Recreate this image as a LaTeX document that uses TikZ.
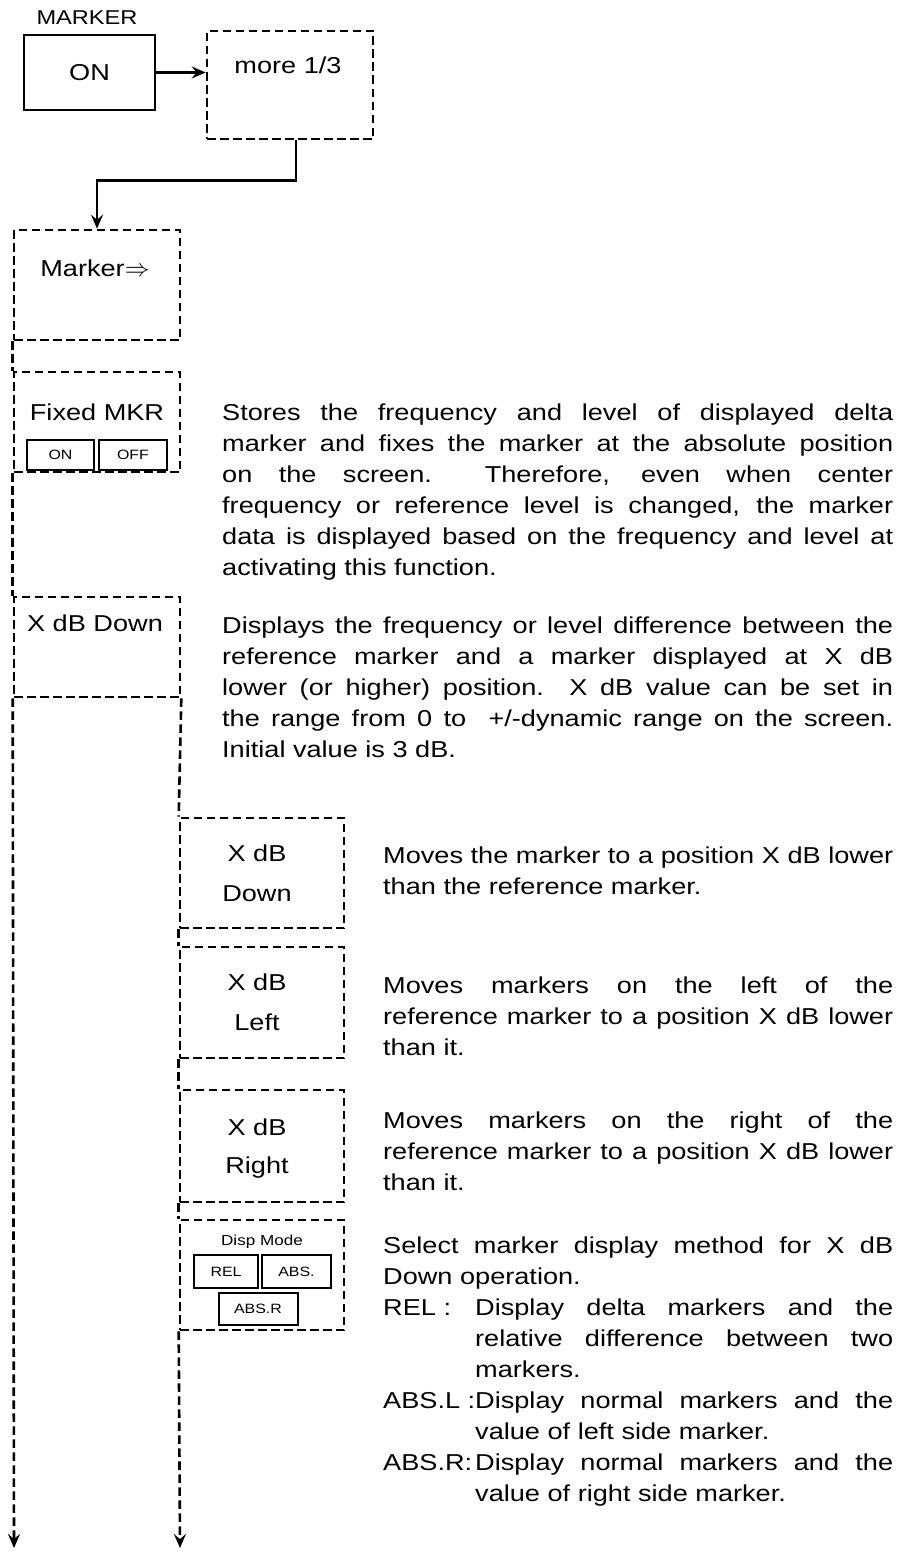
\documentclass[tikz,border=0pt]{standalone}
\usepackage{fontspec}
\setmainfont{Liberation Sans}[FakeStretch=1.18]
\usetikzlibrary{arrows.meta,positioning}

% one full, spread-out line of a description
\newcommand{\jl}[1]{{\spaceskip=0pt\relax\xspaceskip=0pt\relax\makebox[\linewidth][s]{#1}}}
\newcommand{\jt}[1]{{\spaceskip=0pt\relax\makebox[\dimexpr\linewidth-\tagw][s]{#1}}}
\newlength{\tagw}
\setlength{\tagw}{92pt}

\begin{document}
\begin{tikzpicture}[x=1pt, y=-1pt,
  key/.style={draw, line width=2.6pt, inner sep=0pt, font=\fontsize{23}{31}\selectfont, text height=16.5pt, text depth=0pt},
  soft/.style={draw, line width=2.6pt, dash pattern=on 8.5pt off 4.5pt, inner sep=0pt},
  btn/.style={draw, line width=2pt, inner sep=0pt, font=\fontsize{13.5}{16}\selectfont, text height=9.7pt, text depth=0pt},
  lbl/.style={inner sep=0pt, font=\fontsize{23}{31}\selectfont, text height=16.5pt, text depth=0pt},
  small/.style={inner sep=0pt, font=\fontsize{14.5}{17}\selectfont, text height=10.4pt, text depth=0pt},
  desc/.style={inner sep=0pt, font=\fontsize{23}{31}\selectfont, align=justify, anchor=base west},
  flow/.style={line width=2.6pt, -{Stealth[length=14pt, width=12pt, inset=5pt]}},
  chain/.style={line width=2.6pt, dash pattern=on 8.5pt off 4.5pt}
]
  \useasboundingbox (0,0) rectangle (909,1555);

  % Top row
  \node[lbl, font=\fontsize{20}{24}\selectfont, text height=14.3pt] (title) at (87,17) {MARKER};
  \node[key, minimum width=131pt, minimum height=75pt] (on) at (89.5,72.5) {ON};
  \node[soft, minimum width=166pt, minimum height=108pt] (more) at (290,85) {};
  \node[lbl] (moretxt) at (288,65) {more 1/3};

  % Left column
  \node[soft, minimum width=166pt, minimum height=110pt] (mkr) at (97,285) {};
  \node[lbl] (mkrtxt) at (95,268) {Marker$\Rightarrow$};
  \node[soft, minimum width=166pt, minimum height=100pt] (fix) at (97,422) {};
  \node[lbl] (fixtxt) at (97,412) {Fixed MKR};
  \node[btn, minimum width=67pt, minimum height=30pt] (fon) at (60.5,455) {ON};
  \node[btn, minimum width=68pt, minimum height=30pt] (foff) at (133,455) {OFF};
  \node[soft, minimum width=166pt, minimum height=100pt] (xdb) at (97,647) {};
  \node[lbl] (xdbtxt) at (95,623) {X dB Down};

  % Right column
  \node[soft, minimum width=164pt, minimum height=110pt] (s1) at (262,873) {};
  \node[lbl] (s1a) at (257,853) {X dB};
  \node[lbl] (s1b) at (257,893) {Down};
  \node[soft, minimum width=164pt, minimum height=111pt] (s2) at (262,1002.5) {};
  \node[lbl] (s2a) at (257,982) {X dB};
  \node[lbl] (s2b) at (257,1022) {Left};
  \node[soft, minimum width=164pt, minimum height=112pt] (s3) at (262,1146) {};
  \node[lbl] (s3a) at (257,1127) {X dB};
  \node[lbl] (s3b) at (257,1165) {Right};
  \node[soft, minimum width=164pt, minimum height=110pt] (s4) at (262,1275) {};
  \node[small] (s4a) at (262,1240) {Disp Mode};
  \node[btn, minimum width=64pt, minimum height=33pt] (rel) at (226,1271.5) {REL};
  \node[btn, minimum width=69pt, minimum height=33pt] (abs) at (296.5,1271.5) {ABS.};
  \node[btn, minimum width=79pt, minimum height=32pt] (absr) at (258,1309) {ABS.R};

  % Ends of the chains
  \coordinate (lend) at (14,1548);
  \coordinate (rend) at (180,1548);

  % Connectors
  \draw[flow] (on.east) -- (on.east -| more.west);
  \draw[flow] ([xshift=6pt]more.south) -- ++(0,40) -| (mkr.north);
  \draw[chain] (mkr.south west) -- (fix.north west);
  \draw[chain] (fix.south west) -- (xdb.north west);
  \draw[chain, flow] (xdb.south west) -- (lend);
  \draw[chain] (xdb.south east) -- (s1.north west);
  \draw[chain] (s1.south west) -- (s2.north west);
  \draw[chain] (s2.south west) -- (s3.north west);
  \draw[chain] (s3.south west) -- (s4.north west);
  \draw[chain, flow] (s4.south west) -- (rend);

  % Descriptions
  \node[desc, text width=671pt] (d1) at (222,420) {%
    \jl{Stores the frequency and level of displayed delta}\\
    \jl{marker and fixes the marker at the absolute position}\\
    \jl{on the screen.\ \ Therefore, even when center}\\
    \jl{frequency or reference level is changed, the marker}\\
    \jl{data is displayed based on the frequency and level at}\\
    activating this function.};
  \node[desc, text width=671pt] (d2) at (222,633) {%
    \jl{Displays the frequency or level difference between the}\\
    \jl{reference marker and a marker displayed at X dB}\\
    \jl{lower (or higher) position.\ \ X dB value can be set in}\\
    \jl{the range from 0 to\ \ +/-dynamic range on the screen.}\\
    Initial value is 3 dB.};
  \node[desc, text width=510pt] (d3) at (383,863) {%
    \jl{Moves the marker to a position X dB lower}\\
    than the reference marker.};
  \node[desc, text width=510pt] (d4) at (383,993) {%
    \jl{Moves markers on the left of the}\\
    \jl{reference marker to a position X dB lower}\\
    than it.};
  \node[desc, text width=510pt] (d5) at (383,1128) {%
    \jl{Moves markers on the right of the}\\
    \jl{reference marker to a position X dB lower}\\
    than it.};
  \node[desc, text width=510pt] (d6) at (383,1253) {%
    \jl{Select marker display method for X dB}\\
    Down operation.\\
    \makebox[\tagw][l]{REL :}\jt{Display delta markers and the}\\
    \hspace*{\tagw}\jt{relative difference between two}\\
    \hspace*{\tagw}markers.\\
    \makebox[\tagw][l]{ABS.L :}\jt{Display normal markers and the}\\
    \hspace*{\tagw}value of left side marker.\\
    \makebox[\tagw][l]{ABS.R:}\jt{Display normal markers and the}\\
    \hspace*{\tagw}value of right side marker.};
\end{tikzpicture}
\end{document}
